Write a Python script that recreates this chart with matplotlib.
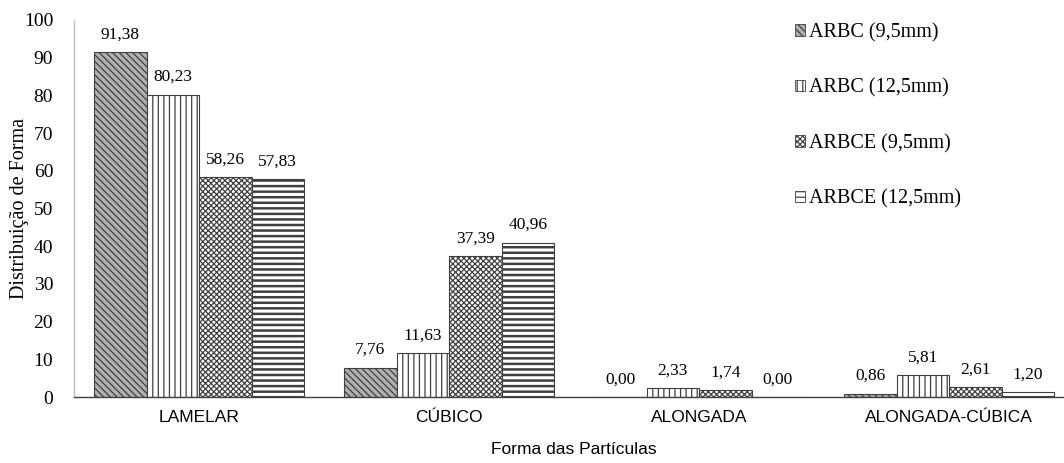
import matplotlib
matplotlib.use("Agg")
import matplotlib.pyplot as plt
import numpy as np
from matplotlib.patches import Patch

categories = ["LAMELAR", "CÚBICO", "ALONGADA", "ALONGADA-CÚBICA"]
series_names = ["ARBC (9,5mm)", "ARBC (12,5mm)", "ARBCE (9,5mm)", "ARBCE (12,5mm)"]
arbc_95 = [91.38, 7.76, 0.00, 0.86]
arbc_125 = [80.23, 11.63, 2.33, 5.81]
arbce_95 = [58.26, 37.39, 1.74, 2.61]
arbce_125 = [57.83, 40.96, 0.00, 1.20]
y_ticks = [0, 10, 20, 30, 40, 50, 60, 70, 80, 90, 100]

series = [arbc_95, arbc_125, arbce_95, arbce_125]
hatches = ["\\\\\\\\\\", "|||", "xxxxxx", "---"]
faces = ["#b0b0b0", "white", "white", "white"]
edge = "#404040"
hatch_lw = [0.9, 0.9, 0.9, 1.8]

serif = ["Liberation Serif", "DejaVu Serif"]
sans = ["Liberation Sans", "DejaVu Sans"]

plt.rcParams["hatch.color"] = edge
plt.rcParams["hatch.linewidth"] = 0.9

W, H = 1064, 463
fig = plt.figure(figsize=(W / 100, H / 100), dpi=100)
ax = fig.add_axes([74 / W, 66 / H, 1000 / W, 377 / H])

x = np.arange(len(categories))
width = 0.21
handles = []
for i, vals in enumerate(series):
    offs = (i - 1.5) * width
    bars = ax.bar(x + offs, vals, width, color=faces[i], edgecolor=edge,
                  hatch=hatches[i], linewidth=0.8)
    for b in bars:
        try:
            b.set_hatch_linewidth(hatch_lw[i])
        except AttributeError:
            pass
    labels = [f"{v:.2f}".replace(".", ",") for v in vals]
    ax.bar_label(bars, labels=labels, padding=7, fontsize=12.5, family=serif)
    handles.append(Patch(facecolor=faces[i], edgecolor=edge, hatch=hatches[i],
                         linewidth=0.6))

ax.set_xlim(-0.5, 3.5)
ax.set_ylim(0, 100)
ax.set_yticks(y_ticks)
ax.set_yticklabels([str(t) for t in y_ticks], fontsize=14, family=serif)
ax.set_xticks(x)
ax.set_xticklabels(categories, fontsize=12.5, family=sans)
ax.tick_params(axis="both", length=0)
ax.tick_params(axis="x", pad=9)
ax.tick_params(axis="y", pad=15)

for s in ["top", "right"]:
    ax.spines[s].set_visible(False)
ax.spines["left"].set_color("#bfbfbf")
ax.spines["left"].set_linewidth(1.0)
ax.spines["bottom"].set_color("#404040")
ax.spines["bottom"].set_linewidth(1.0)

ax.set_ylabel("Distribuição de Forma", fontsize=14.5, family=serif, labelpad=-4)
fig.text(574 / W, 1 - 450 / H, "Forma das Partículas", fontsize=12.5,
         family=sans, ha="center", va="center")

leg = fig.legend(handles, series_names, loc="upper left",
                 bbox_to_anchor=(795 / W, 1 - 23 / H), frameon=False,
                 borderpad=0, borderaxespad=0,
                 prop={"family": serif, "size": 14.5}, handlelength=0.5,
                 handleheight=0.5, handletextpad=0.2, labelspacing=1.8)

fig.savefig("out.png", dpi=100)
